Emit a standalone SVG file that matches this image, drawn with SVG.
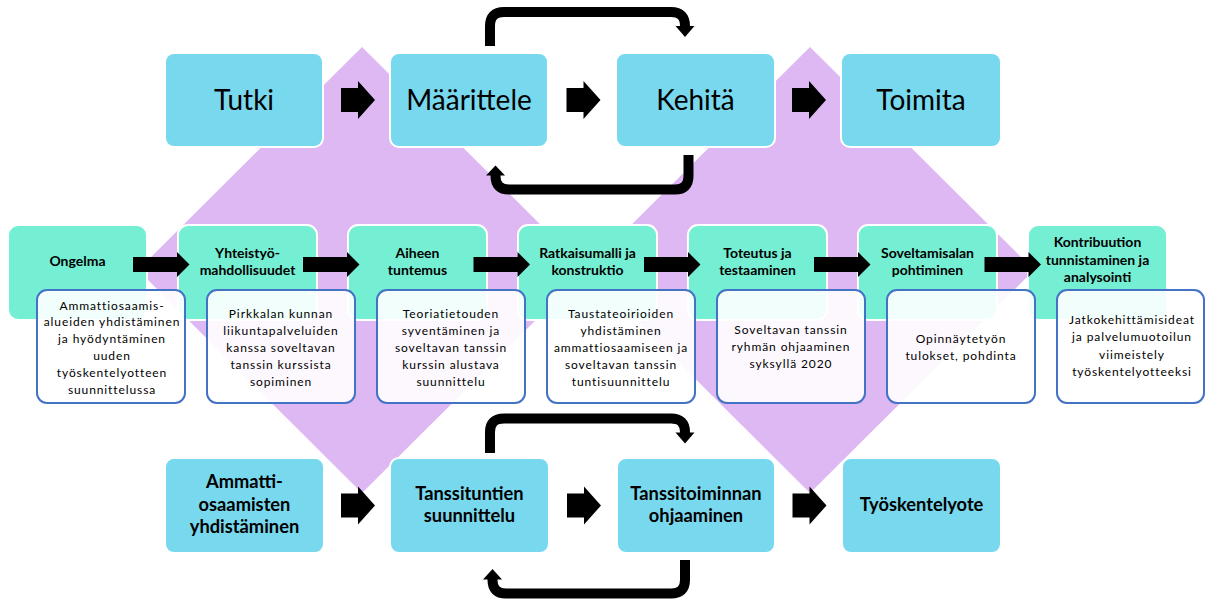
<svg xmlns="http://www.w3.org/2000/svg" xmlns:xlink="http://www.w3.org/1999/xlink" width="1206" height="600" viewBox="0 0 1206 600">
<style>
text{font-family:Lato,"Liberation Sans",sans-serif;fill:#000;text-anchor:middle}
.bg{fill:#DDB8F3}
.blue{fill:#78D8EE;stroke:#fff;stroke-width:2}
.green{fill:#74EFD4;stroke:#fff;stroke-width:2}
.desc{fill:#fff;fill-opacity:0.9;stroke:#4472C4;stroke-width:2}
.t1{font-size:28px}
.t2{font-size:18.3px;font-weight:bold}
.t3{font-size:14px;font-weight:bold}
.t4{font-size:12px;letter-spacing:0.9px}
.loop{fill:none;stroke:#000;stroke-width:10}
.blk{fill:#000}
</style>
<defs>
<path id="aTop" d="M0,7 H17 V0 L34,19 L17,38 V31 H0 Z"/>
<path id="aMid" d="M0,5 H44 V0 L56.5,12.5 L44,25 V20 H0 Z"/>
</defs>
<g id="background">
<polygon class="bg" points="362,47 586,270 362,493 138,270"/>
<polygon class="bg" points="810,47 1034,270 810,493 586,270"/>
</g>
<g id="tutki"><rect class="blue" x="165" y="53" width="158" height="94" rx="9"/><text class="t1" x="244" y="110">Tutki</text></g>
<g id="maarittele"><rect class="blue" x="390" y="53" width="158" height="94" rx="9"/><text class="t1" x="469" y="110">Määrittele</text></g>
<g id="kehita"><rect class="blue" x="616" y="53" width="159" height="94" rx="9"/><text class="t1" x="695.5" y="110">Kehitä</text></g>
<g id="toimita"><rect class="blue" x="841" y="53" width="160" height="94" rx="9"/><text class="t1" x="921" y="110">Toimita</text></g>
<g id="ammatti"><rect class="blue" x="165" y="458" width="159" height="95" rx="9"/><text class="t2" x="244.5" y="488">Ammatti-</text><text class="t2" x="244.5" y="511">osaamisten</text><text class="t2" x="244.5" y="533">yhdistäminen</text></g>
<g id="tanssituntien"><rect class="blue" x="390" y="458" width="159" height="95" rx="9"/><text class="t2" x="469.5" y="500">Tanssituntien</text><text class="t2" x="469.5" y="522">suunnittelu</text></g>
<g id="tanssitoiminnan"><rect class="blue" x="617" y="458" width="158" height="95" rx="9"/><text class="t2" x="696" y="500">Tanssitoiminnan</text><text class="t2" x="696" y="522">ohjaaminen</text></g>
<g id="tyoskentelyote"><rect class="blue" x="842" y="458" width="159" height="95" rx="9"/><text class="t2" x="921.5" y="511">Työskentelyote</text></g>
<g id="ongelma"><rect class="green" x="8" y="225" width="139" height="95" rx="10"/><text class="t3" x="77.5" y="266">Ongelma</text></g>
<g id="yhteistyo"><rect class="green" x="178" y="225" width="139" height="95" rx="10"/><text class="t3" x="247.5" y="257.5">Yhteistyö-</text><text class="t3" x="247.5" y="274.5">mahdollisuudet</text></g>
<g id="aiheen"><rect class="green" x="348" y="225" width="139" height="95" rx="10"/><text class="t3" x="417.5" y="257.5">Aiheen</text><text class="t3" x="417.5" y="274.5">tuntemus</text></g>
<g id="ratkaisumalli"><rect class="green" x="518" y="225" width="139" height="95" rx="10"/><text class="t3" x="587.5" y="257.5">Ratkaisumalli ja</text><text class="t3" x="587.5" y="274.5">konstruktio</text></g>
<g id="toteutus"><rect class="green" x="688" y="225" width="139" height="95" rx="10"/><text class="t3" x="757.5" y="257.5">Toteutus ja</text><text class="t3" x="757.5" y="274.5">testaaminen</text></g>
<g id="soveltamisalan"><rect class="green" x="858" y="225" width="139" height="95" rx="10"/><text class="t3" x="927.5" y="257.5">Soveltamisalan</text><text class="t3" x="927.5" y="274.5">pohtiminen</text></g>
<g id="kontribuution"><rect class="green" x="1028" y="225" width="139" height="95" rx="10"/><text class="t3" x="1097.5" y="247">Kontribuution</text><text class="t3" x="1097.5" y="264.5">tunnistaminen ja</text><text class="t3" x="1097.5" y="282">analysointi</text></g>
<g id="desc1"><rect class="desc" x="37" y="290" width="148" height="113" rx="10"/>
<text class="t4" x="112" y="309.5">Ammattiosaamis-</text><text class="t4" x="112" y="326.3">alueiden yhdistäminen</text><text class="t4" x="112" y="343.1">ja hyödyntäminen</text><text class="t4" x="112" y="359.9">uuden</text><text class="t4" x="112" y="376.7">työskentelyotteen</text><text class="t4" x="112" y="393.5">suunnittelussa</text></g>
<g id="desc2"><rect class="desc" x="207" y="290" width="148" height="113" rx="10"/>
<text class="t4" x="281" y="317.5">Pirkkalan kunnan</text><text class="t4" x="281" y="334.5">liikuntapalveluiden</text><text class="t4" x="281" y="351.5">kanssa soveltavan</text><text class="t4" x="281" y="368.5">tanssin kurssista</text><text class="t4" x="281" y="385.5">sopiminen</text></g>
<g id="desc3"><rect class="desc" x="377" y="290" width="148" height="113" rx="10"/>
<text class="t4" x="451" y="317.5">Teoriatietouden</text><text class="t4" x="451" y="334.5">syventäminen ja</text><text class="t4" x="451" y="351.5">soveltavan tanssin</text><text class="t4" x="451" y="368.5">kurssin alustava</text><text class="t4" x="451" y="385.5">suunnittelu</text></g>
<g id="desc4"><rect class="desc" x="547" y="290" width="148" height="113" rx="10"/>
<text class="t4" x="621" y="317.5">Taustateoirioiden</text><text class="t4" x="621" y="334.5">yhdistäminen</text><text class="t4" x="621" y="351.5">ammattiosaamiseen ja</text><text class="t4" x="621" y="368.5">soveltavan tanssin</text><text class="t4" x="621" y="385.5">tuntisuunnittelu</text></g>
<g id="desc5"><rect class="desc" x="717" y="290" width="148" height="113" rx="10"/>
<text class="t4" x="791" y="334">Soveltavan tanssin</text><text class="t4" x="791" y="351">ryhmän ohjaaminen</text><text class="t4" x="791" y="368">syksyllä 2020</text></g>
<g id="desc6"><rect class="desc" x="887" y="290" width="148" height="113" rx="10"/>
<text class="t4" x="961" y="343">Opinnäytetyön</text><text class="t4" x="961" y="360">tulokset, pohdinta</text></g>
<g id="desc7"><rect class="desc" x="1057" y="290" width="147" height="113" rx="10"/>
<text class="t4" x="1132" y="323.5">Jatkokehittämisideat</text><text class="t4" x="1132" y="341">ja palvelumuotoilun</text><text class="t4" x="1132" y="358.5">viimeistely</text><text class="t4" x="1132" y="376">työskentelyotteeksi</text></g>
<g id="connectors">
<use xlink:href="#aTop" href="#aTop" class="blk" x="341" y="81"/>
<use xlink:href="#aTop" href="#aTop" class="blk" x="566.5" y="81"/>
<use xlink:href="#aTop" href="#aTop" class="blk" x="792" y="81"/>
<use xlink:href="#aTop" href="#aTop" class="blk" x="341" y="486.5"/>
<use xlink:href="#aTop" href="#aTop" class="blk" x="567" y="486.5"/>
<use xlink:href="#aTop" href="#aTop" class="blk" x="792.5" y="486.5"/>
<use xlink:href="#aMid" href="#aMid" class="blk" x="133" y="252"/>
<use xlink:href="#aMid" href="#aMid" class="blk" x="303" y="252"/>
<use xlink:href="#aMid" href="#aMid" class="blk" x="473.5" y="252"/>
<use xlink:href="#aMid" href="#aMid" class="blk" x="644" y="252"/>
<use xlink:href="#aMid" href="#aMid" class="blk" x="814" y="252"/>
<use xlink:href="#aMid" href="#aMid" class="blk" x="984.5" y="252"/>
<path class="loop" d="M490,46 V26 Q490,12 504,12 H671 Q685,12 685,26 V27"/>
<polygon class="blk" points="675.5,26 694.5,26 685,37"/>
<path class="loop" d="M688.5,155 V176 Q688.5,189.5 675,189.5 H509 Q495.5,189.5 495.5,176 V175"/>
<polygon class="blk" points="486,175.5 505,175.5 495.5,165.5"/>
<path class="loop" d="M490,453 V432 Q490,418.5 504,418.5 H671 Q685,418.5 685,432 V433"/>
<polygon class="blk" points="675.5,432.5 694.5,432.5 685,443.5"/>
<path class="loop" d="M685,560 V580 Q685,593.5 671,593.5 H506 Q492.5,593.5 492.5,580 V579"/>
<polygon class="blk" points="483,579.5 502,579.5 492.5,569"/>
</g>
</svg>
